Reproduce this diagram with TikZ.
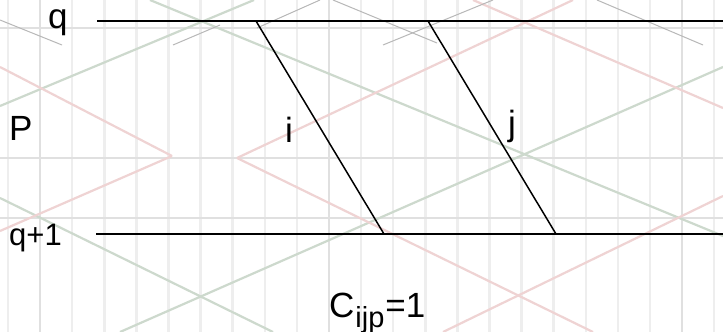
\documentclass[tikz,border=0pt]{standalone}
\usepackage{fontspec}
\setsansfont{Liberation Sans}
\definecolor{Grid}{HTML}{EEEEEE}
\definecolor{GridDark}{HTML}{E0E0E0}
\definecolor{Sage}{HTML}{CDD9CD}
\definecolor{Blush}{HTML}{EFD3D3}
\definecolor{Ash}{HTML}{B8B8B8}

\begin{document}
\begin{tikzpicture}[x=1pt,y=-1pt,
  lbl/.style={font=\sffamily\fontsize{35}{40}\selectfont,anchor=base west,inner sep=0pt},
  rail/.style={black,line width=1.5pt},
  wm/.style={line width=2.2pt}]
\path[use as bounding box,fill=white] (0,0) rectangle (723,332);
\foreach \k in {0,...,22} {\draw[Grid,line width=2.5pt] ({8+32.1*\k},0) -- ({8+32.1*\k},332);}
\foreach \k in {1,10,21} {\draw[GridDark,line width=2.5pt] ({8+32.1*\k},0) -- ({8+32.1*\k},332);}
\foreach \y in {28,158,218} {\draw[GridDark,line width=1.5pt] (0,\y) -- (723,\y);}
\foreach \a/\b/\c/\d in {150/0/723/236, 0/106/254/0, 0/198/273/332, 120/332/723/67}
  {\draw[Sage,wm] (\a,\b) -- (\c,\d);}
\foreach \a/\b/\c/\d in {0/67/172/156, 0/231/172/156, 237/158/573/0, 237/158/593/332, 473/0/723/108, 443/332/723/196}
  {\draw[Blush,wm] (\a,\b) -- (\c,\d);}
\foreach \a/\b/\c/\d in {0/20/62/45, 173/45/220/25, 257/28/320/0, 333/0/437/43, 383/45/493/0, 597/0/703/45}
  {\draw[Ash,line width=1pt] (\a,\b) -- (\c,\d);}
\coordinate (qW) at (97,21);
\coordinate (qE) at (723,21);
\coordinate (rW) at (96,234);
\coordinate (rE) at (723,234);
\coordinate (iT) at (256,21);
\coordinate (iB) at (384,234);
\coordinate (jT) at (428,21);
\coordinate (jB) at (556,234);
\draw[rail] (qW) -- (qE);
\draw[rail] (rW) -- (rE);
\draw[rail] (iT) -- (iB);
\draw[rail] (jT) -- (jB);
\node[lbl] (q) at (48,28) {q};
\node[lbl] (P) at (9,140) {P};
\node[lbl,font=\sffamily\fontsize{31}{36}\selectfont] (q1) at (9,245) {q+1};
\node[lbl] (i) at (285,142) {i};
\node[lbl] (j) at (508,135) {j};
\node[lbl] (cost) at (329,317) {C\kern1pt\raisebox{-10pt}{\fontsize{29}{30}\selectfont ijp}\kern1pt=1};
\end{tikzpicture}
\end{document}
